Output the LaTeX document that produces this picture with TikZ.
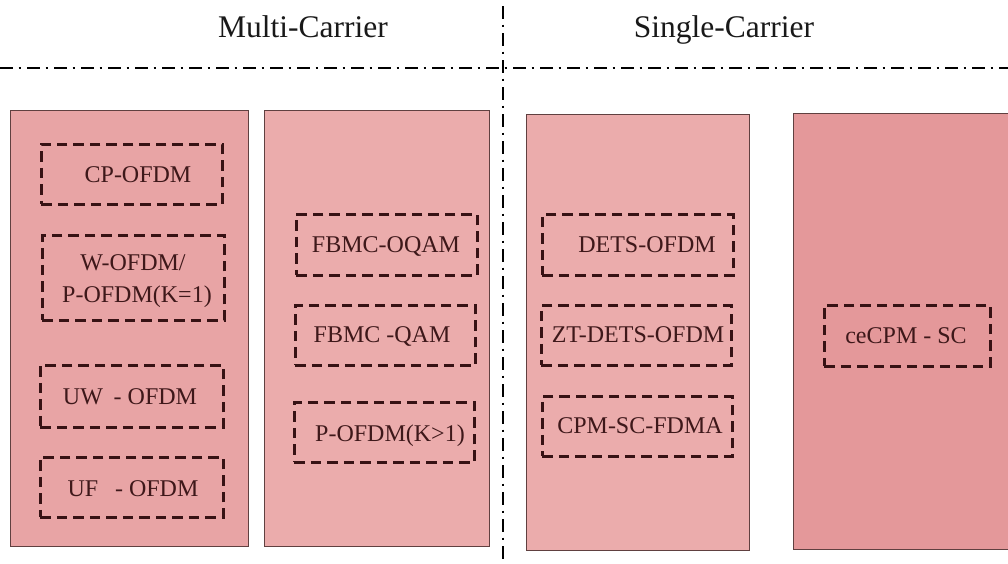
\documentclass[tikz,border=0pt]{standalone}
\usepackage{fontspec}
\setmainfont{Liberation Serif}
\begin{document}
\begin{tikzpicture}[x=1pt,y=-1pt,
  groupbox/.style={draw=black!75!red!50!gray, line width=1.1pt, rectangle, inner sep=0pt},
  schemebox/.style={draw=schemeline, line width=2.8pt, dash pattern=on 10.5pt off 6pt, rectangle, inner sep=0pt},
  schemelabel/.style={text=schemetext, font=\fontsize{24}{26}\selectfont, anchor=base, inner sep=0pt},
  heading/.style={text=black!90, font=\fontsize{31.5}{34}\selectfont, anchor=base, inner sep=0pt},
  divider/.style={draw=black, line width=2.2pt, dash pattern=on 13pt off 5.5pt on 2pt off 6.5pt}]
\definecolor{fillA}{RGB}{232,164,165}
\definecolor{fillB}{RGB}{235,172,172}
\definecolor{fillC}{RGB}{235,172,172}
\definecolor{fillD}{RGB}{228,152,154}
\definecolor{schemeline}{RGB}{55,18,20}
\definecolor{schemetext}{RGB}{62,24,26}
\useasboundingbox (0,0) rectangle (1008,563);
\fill[white] (0,0) rectangle (1008,563);

% group panels
\node[groupbox, fill=fillA, minimum width=238pt, minimum height=436pt, anchor=north west] (mcA) at (10,110) {};
\node[groupbox, fill=fillB, minimum width=225pt, minimum height=436pt, anchor=north west] (mcB) at (264,110) {};
\node[groupbox, fill=fillC, minimum width=223pt, minimum height=436pt, anchor=north west] (scA) at (526,114) {};
\node[groupbox, fill=fillD, minimum width=222pt, minimum height=436pt, anchor=north west] (scB) at (793,113) {};

% dividers
\coordinate (hl) at (0,68);
\coordinate (hr) at (1008,68);
\coordinate (vt) at (503,6);
\coordinate (vb) at (503,563);
\draw[divider] (hl) -- (hr);
\draw[divider] (vt) -- (vb);

% headings
\node[heading] (mc) at (303,37) {Multi-Carrier};
\node[heading] (sc) at (724,37) {Single-Carrier};

% multi-carrier, first panel
\node[schemebox, minimum width=181pt, minimum height=60pt, anchor=north west] (cp) at (40,143) {};
\node[schemelabel] (cpt) at (138,182) {CP-OFDM};
\node[schemebox, minimum width=182pt, minimum height=85pt, anchor=north west] (wo) at (41,234) {};
\node[schemelabel] (wot1) at (133,270) {W-OFDM/};
\node[schemelabel] (wot2) at (137,302) {P-OFDM(K=1)};
\node[schemebox, minimum width=183pt, minimum height=62pt, anchor=north west] (uw) at (39,364) {};
\node[schemelabel] (uwt) at (130,404) {UW\hspace{0.45em}- OFDM};
\node[schemebox, minimum width=183pt, minimum height=60pt, anchor=north west] (uf) at (39,456) {};
\node[schemelabel] (uft) at (133,496) {UF\hspace{0.7em}- OFDM};

% multi-carrier, second panel
\node[schemebox, minimum width=181pt, minimum height=61pt, anchor=north west] (oq) at (295,213) {};
\node[schemelabel] (oqt) at (386,252) {FBMC-OQAM};
\node[schemebox, minimum width=180pt, minimum height=60pt, anchor=north west] (qa) at (294,304) {};
\node[schemelabel] (qat) at (382,342) {FBMC -QAM};
\node[schemebox, minimum width=180pt, minimum height=60pt, anchor=north west] (po) at (293,401) {};
\node[schemelabel] (pot) at (390,441) {P-OFDM(K>1)};

% single-carrier, first panel
\node[schemebox, minimum width=191pt, minimum height=61pt, anchor=north west] (de) at (541,213) {};
\node[schemelabel] (det) at (647,252) {DETS-OFDM};
\node[schemebox, minimum width=190pt, minimum height=60pt, anchor=north west] (zt) at (540,304) {};
\node[schemelabel] (ztt) at (638,342) {ZT-DETS-OFDM};
\node[schemebox, minimum width=190pt, minimum height=60pt, anchor=north west] (cs) at (541,395) {};
\node[schemelabel] (cst) at (640,433) {CPM-SC-FDMA};

% single-carrier, second panel
\node[schemebox, minimum width=166pt, minimum height=61pt, anchor=north west] (ce) at (823,304) {};
\node[schemelabel] (cet) at (906,343) {ceCPM - SC};
\end{tikzpicture}
\end{document}
